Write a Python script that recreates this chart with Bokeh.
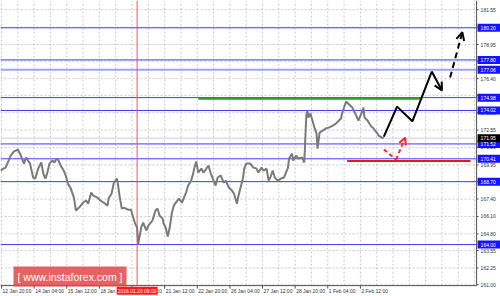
from bokeh.plotting import figure
from bokeh.models import Range1d, Label, Arrow, OpenHead
from bokeh.core.properties import value
from bokeh.embed import file_html
from bokeh.resources import INLINE

# ---------------- data (bar index = hourly bars, weekends skipped) ----------------
price_idx = [-1, 2, 4, 7, 9, 12, 16, 19, 22, 24, 26, 28, 31, 33, 36, 39, 41, 43, 45, 47,
             50, 52, 54, 56, 58, 61, 63, 65, 68, 71, 73, 75, 77, 80, 83, 85, 88, 90, 94, 97,
             100, 104, 105, 108, 110, 113, 114, 116, 118, 120, 124, 127, 128, 131, 133, 134,
             137, 139, 142, 144, 148, 151, 153, 155, 158, 159, 161, 163, 165, 167, 169, 171,
             174, 177, 179, 181, 183, 186, 188, 189, 191, 193, 196, 198, 201, 203, 205, 208,
             210, 212, 215, 218, 220, 223, 226, 228, 230, 231, 232, 235, 237, 238, 240, 242,
             244, 247, 250, 252, 255, 257, 260, 262, 264, 266, 268, 271, 274, 277, 281, 282,
             285, 286, 289, 291, 295, 297, 298, 299, 300, 301, 303, 305, 307, 309, 310, 312,
             315, 318, 321, 325, 328, 331, 333, 334, 336, 338, 340, 344, 347, 350, 353, 355,
             356, 359, 362, 365, 368, 370, 373, 375]
price_val = [169.53, 169.68, 169.75, 170.28, 170.65, 170.95, 171.10, 170.65, 170.05, 170.50,
             170.28, 170.05, 169.01, 168.93, 169.68, 170.13, 169.30, 168.93, 169.38, 170.05,
             170.28, 170.13, 170.43, 170.28, 169.90, 169.53, 169.16, 168.56, 168.18, 167.51,
             166.54, 166.69, 166.84, 167.14, 167.29, 167.06, 167.88, 167.66, 167.51, 167.29,
             167.14, 166.91, 167.44, 167.81, 168.56, 168.93, 168.63, 167.51, 166.69, 166.76,
             166.61, 166.61, 166.32, 165.57, 165.27, 164.02, 165.27, 165.64, 165.05, 165.42,
             165.79, 166.54, 166.69, 166.17, 165.94, 165.57, 165.27, 164.60, 165.27, 166.32,
             166.91, 167.14, 167.44, 167.14, 167.51, 167.88, 168.41, 168.78, 169.30, 169.68,
             170.20, 169.38, 169.68, 169.38, 169.68, 169.90, 169.38, 168.78, 168.41, 169.01,
             169.16, 168.63, 168.78, 168.26, 168.04, 167.81, 167.29, 167.06, 167.51, 168.41,
             169.01, 169.68, 170.05, 170.05, 170.05, 169.75, 169.68, 169.38, 169.75, 169.53,
             169.68, 168.78, 169.08, 169.53, 169.01, 168.78, 168.93, 169.01, 169.75, 170.43,
             170.80, 170.28, 170.65, 170.43, 170.50, 170.13, 171.99, 173.64, 174.01, 173.49,
             173.79, 173.27, 172.74, 172.30, 171.17, 172.37, 172.52, 172.67, 172.74, 172.89,
             173.04, 173.27, 173.42, 173.79, 174.24, 174.69, 174.54, 174.24, 173.79, 173.27,
             173.79, 174.24, 173.49, 173.27, 172.89, 172.67, 172.37, 172.14, 171.99, 171.99]

level_values = [180.20, 177.80, 177.06, 174.98, 174.02, 171.52, 170.41, 168.70, 164.00]
level_labels = ["180.20", "177.80", "177.06", "174.98", "174.02", "171.52", "170.41", "168.70", "164.00"]
bid_value = [171.95]
bid_label = ["171.95"]

grid_values = [161.00, 162.25, 163.55, 164.80, 166.10, 167.40, 168.70, 169.95, 171.26,
               172.55, 173.85, 175.15, 176.40, 177.70, 178.95, 180.25, 181.55]
grid_labels = ["161.00", "162.25", "163.55", "164.80", "166.10", "167.40", "", "169.95", "171.26",
               "172.55", "173.90", "", "176.40", "", "178.95", "", "181.55"]

time_ticks = [0, 32, 64, 96, 128, 160, 192, 224, 256, 288, 320, 352]
time_labels = ["12 Jan 20:00", "14 Jan 04:00", "15 Jan 12:00", "18 Jan 20:00", "20 Jan 04:00",
               "21 Jan 12:00", "22 Jan 20:00", "26 Jan 04:00", "27 Jan 12:00", "28 Jan 20:00",
               "1 Feb 04:00", "2 Feb 12:00"]
marker_idx = [133]
marker_label = ["2016.01.20 09:00"]

# resistance (green) and support (red) zones
green_x = [193, 411]
green_y = [174.90, 174.90]
red_x = [339, 460]
red_y = [170.25, 170.25]

# forecast paths
solid_x = [375, 388, 403, 422, 432]
solid_y = [172.07, 174.31, 173.21, 176.93, 175.51]
dash_x = [440, 452]
dash_y = [176.48, 179.87]
alt_x = [375, 387, 396]
alt_y = [171.10, 170.35, 171.99]

# ---------------- geometry of the terminal window ----------------
W, H = 500, 296
X_START = -1
PX_PER_BAR = 1.0195
X_END = X_START + W / PX_PER_BAR
Y_HIGH = 182.24
PX_PER_UNIT = 13.38
Y_LOW = Y_HIGH - H / PX_PER_UNIT
X_AXIS = 466          # price scale position (bar units)
Y_AXIS = 160.93       # time scale position (price units)
FONT = value("Liberation Sans")
FS = value("5px")
AXIS_COLOR = "#505050"
GRID_COLOR = "#c8c8c8"
BOX_W, BOX_H = 23, 8  # price boxes, screen px

p = figure(width=W, height=H, x_range=Range1d(X_START, X_END), y_range=Range1d(Y_LOW, Y_HIGH),
           output_backend="svg", toolbar_location=None, x_axis_location=None,
           y_axis_location=None, min_border=0, outline_line_color=None,
           background_fill_color="white", border_fill_color="white")
p.grid.visible = False

# grid (dashed), limited to the chart area
vgrid = list(range(0, X_AXIS, 16))
p.segment(x0=vgrid, y0=[Y_AXIS] * len(vgrid), x1=vgrid, y1=[Y_HIGH] * len(vgrid),
          line_color=GRID_COLOR, line_dash="2 2", line_width=1)
p.segment(x0=[X_START] * len(grid_values), y0=grid_values, x1=[X_AXIS] * len(grid_values),
          y1=grid_values, line_color=GRID_COLOR, line_dash="2 2", line_width=1)

# horizontal levels
for lv in level_values:
    if lv == 177.06:
        p.segment(x0=[X_START], y0=[lv], x1=[X_AXIS], y1=[lv], line_color="#a0a0ff", line_width=2)
    else:
        p.segment(x0=[X_START], y0=[lv], x1=[X_AXIS], y1=[lv], line_color="#3c3cff", line_width=1)
p.segment(x0=[X_START], y0=bid_value, x1=[X_AXIS], y1=bid_value, line_color="#cfcfcf", line_width=1)
p.segment(x0=marker_idx, y0=[Y_AXIS], x1=marker_idx, y1=[Y_HIGH], line_color="#ff5050", line_width=1)

# price
p.line(price_idx, price_val, line_color="#7a7a7a", line_width=2)

# zones
p.line(green_x, green_y, line_color="#2ca02c", line_width=2)
p.line(red_x, red_y, line_color="#e8141e", line_width=2)

# forecast arrows
p.line(solid_x[:-1], solid_y[:-1], line_color="black", line_width=2)
p.add_layout(Arrow(end=OpenHead(size=8, line_color="black", line_width=2),
                   x_start=solid_x[-2], y_start=solid_y[-2], x_end=solid_x[-1], y_end=solid_y[-1],
                   line_color="black", line_width=2))
p.add_layout(Arrow(end=OpenHead(size=8, line_color="black", line_width=2),
                   x_start=dash_x[0], y_start=dash_y[0], x_end=dash_x[1], y_end=dash_y[1],
                   line_color="black", line_width=2, line_dash="6 4"))
p.line(alt_x[:-1], alt_y[:-1], line_color="#ff2030", line_width=2, line_dash="4 3")
p.add_layout(Arrow(end=OpenHead(size=7, line_color="#ff2030", line_width=2),
                   x_start=alt_x[-2], y_start=alt_y[-2], x_end=alt_x[-1], y_end=alt_y[-1],
                   line_color="#ff2030", line_width=2, line_dash="4 3"))

# axis lines and ticks
p.segment(x0=[X_AXIS], y0=[Y_AXIS], x1=[X_AXIS], y1=[Y_HIGH], line_color=AXIS_COLOR, line_width=1)
p.segment(x0=[X_START], y0=[Y_AXIS], x1=[X_AXIS], y1=[Y_AXIS], line_color=AXIS_COLOR, line_width=1)
tick_down = 3 / PX_PER_UNIT
p.segment(x0=time_ticks, y0=[Y_AXIS] * len(time_ticks), x1=time_ticks,
          y1=[Y_AXIS - tick_down] * len(time_ticks), line_color=AXIS_COLOR, line_width=1)
tick_right = 2 / PX_PER_BAR
p.segment(x0=[X_AXIS] * len(grid_values), y0=grid_values,
          x1=[X_AXIS + tick_right] * len(grid_values), y1=grid_values,
          line_color=AXIS_COLOR, line_width=1)

# price scale labels
p.text(x=[X_AXIS] * len(grid_values), y=grid_values, text=grid_labels, x_offset=4,
       text_align="left", text_baseline="middle", text_font=FONT, text_font_size=FS,
       text_color="#333333")
# time scale labels
p.text(x=time_ticks, y=[Y_AXIS] * len(time_ticks), text=time_labels, x_offset=1, y_offset=2,
       text_align="left", text_baseline="top", text_font=FONT, text_font_size=FS,
       text_color="#333333")
p.text(x=marker_idx, y=[Y_AXIS], text=marker_label, y_offset=1, text_align="center",
       text_baseline="top", text_font=FONT, text_font_size=FS, text_color="white",
       background_fill_color="#ff1a1a", padding=1)

# price boxes on the scale
box_cx = X_AXIS + (1 + BOX_W / 2) / PX_PER_BAR
p.rect(x=[box_cx] * len(level_values), y=level_values, width=BOX_W, height=BOX_H,
       width_units="screen", height_units="screen", fill_color="#1414ff", line_color=None)
p.rect(x=[box_cx], y=bid_value, width=BOX_W, height=BOX_H,
       width_units="screen", height_units="screen", fill_color="black", line_color=None)
p.text(x=[X_AXIS] * len(level_values), y=level_values, text=level_labels, x_offset=4,
       text_align="left", text_baseline="middle", text_font=FONT, text_font_size=FS,
       text_color="white")
p.text(x=[X_AXIS], y=bid_value, text=bid_label, x_offset=4,
       text_align="left", text_baseline="middle", text_font=FONT, text_font_size=FS,
       text_color="white")

# logo
p.add_layout(Label(x=13, y=H - 286, x_units="screen", y_units="screen",
                   text="[ www.instaforex.com ]", text_font_size="10.5px",
                   text_font="Liberation Sans", text_color="white",
                   background_fill_color="#e04848", background_fill_alpha=0.85, padding=4))

open("out.html", "w").write(file_html(p, INLINE))
